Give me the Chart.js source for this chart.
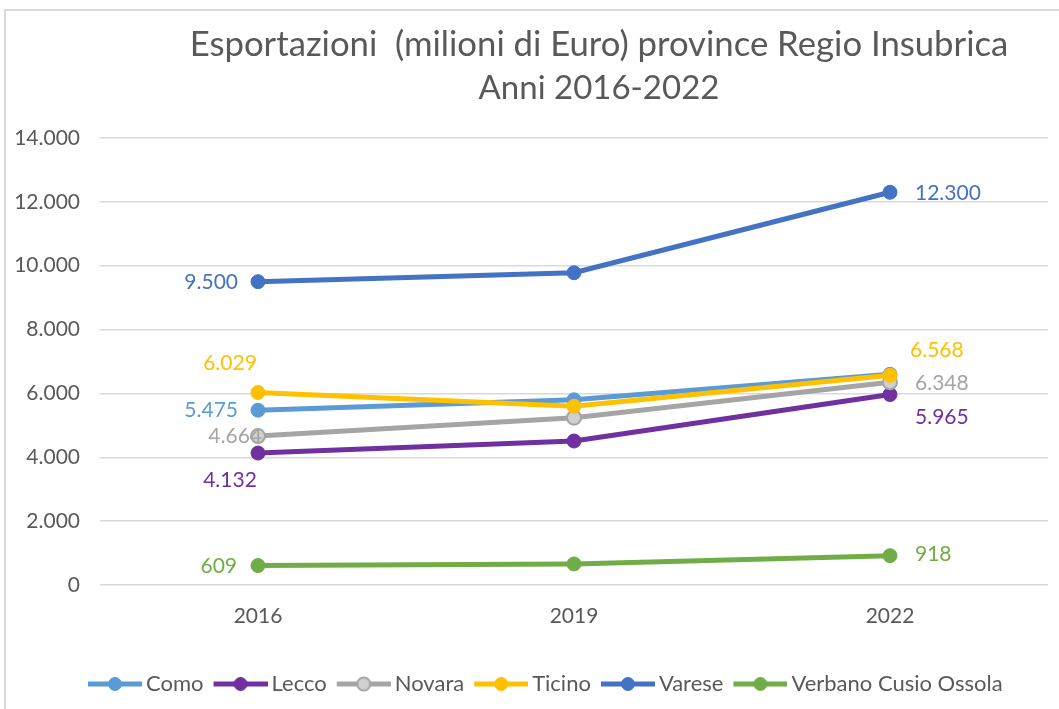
<!DOCTYPE html>
<html>
<head>
<meta charset="utf-8">
<script src="https://cdn.jsdelivr.net/npm/chart.js@4.4.0/dist/chart.umd.min.js"></script>
<style>
  html, body { margin: 0; padding: 0; background: #fff; overflow: hidden; }
  #wrap { position: relative; width: 1059px; height: 709px; }
  #frame { position: absolute; left: 4px; top: 9px; width: 1200px; height: 800px;
           border: 2px solid #d9d9d9; pointer-events: none; }
</style>
</head>
<body>
<div id="wrap">
  <canvas id="exportChart" width="1059" height="709"></canvas>
  <div id="frame"></div>
</div>
<script>
// data (milioni di Euro)
const years = ['2016', '2019', '2022'];
const como = [5475, 5800, 6600];
const lecco = [4132, 4510, 5965];
const novara = [4664, 5240, 6348];
const ticino = [6029, 5600, 6568];
const varese = [9500, 9780, 12300];
const verbano = [609, 660, 918];
const seriesNames = ['Como', 'Lecco', 'Novara', 'Ticino', 'Varese', 'Verbano Cusio Ossola'];
const yTicks = [0, 2000, 4000, 6000, 8000, 10000, 12000, 14000];
const titleLines = ['Esportazioni  (milioni di Euro) province Regio Insubrica', 'Anni 2016-2022'];

const colors = ['#5B9BD5', '#7030A0', '#A5A5A5', '#FFC000', '#4472C4', '#70AD47'];
const fills  = ['#5B9BD5', '#7030A0', '#D0D0D0', '#FFC000', '#4472C4', '#70AD47'];

// where each value label sits, relative to its point: [index, dx, dy, align]
const labelPlacement = [
  [[0, -20, 0, 'right']],
  [[0, -28, 27, 'center'], [2, 25, 23, 'left']],
  [[0, 4, 0, 'right'], [2, 25, 1, 'left']],
  [[0, -28, -29, 'center'], [2, 20, -25, 'left']],
  [[0, -20, 1, 'right'], [2, 25, 1, 'left']],
  [[0, -21, 1, 'right'], [2, 25, -1, 'left']]
];

const fmt = v => String(v).replace(/\B(?=(\d{3})+(?!\d))/g, '.');

// legend symbol: short line with a marker in the middle
function legendSymbol(i) {
  const c = document.createElement('canvas');
  c.width = 61; c.height = 16;
  const g = c.getContext('2d');
  g.strokeStyle = colors[i];
  g.lineWidth = 5;
  g.beginPath(); g.moveTo(7, 8); g.lineTo(61, 8); g.stroke();
  g.beginPath(); g.arc(34, 8, 6.5, 0, Math.PI * 2);
  g.fillStyle = fills[i]; g.fill();
  g.lineWidth = i === 2 ? 2 : 1; g.stroke();
  return c;
}

const titlePlugin = {
  id: 'twoLineTitle',
  afterDraw(chart) {
    const ctx = chart.ctx;
    ctx.save();
    ctx.fillStyle = '#595959';
    ctx.textAlign = 'center';
    ctx.textBaseline = 'middle';
    ctx.font = '34.7px Lato';
    ctx.fillText(titleLines[0], 599, 45);
    ctx.font = '33px Lato';
    ctx.fillText(titleLines[1], 599, 88);
    ctx.restore();
  }
};

const valueLabels = {
  id: 'valueLabels',
  afterDatasetsDraw(chart) {
    const ctx = chart.ctx;
    ctx.save();
    ctx.font = '21px Lato';
    ctx.textBaseline = 'middle';
    labelPlacement.forEach((list, di) => {
      const meta = chart.getDatasetMeta(di);
      const values = chart.data.datasets[di].data;
      list.forEach(([idx, dx, dy, align]) => {
        const pt = meta.data[idx];
        ctx.fillStyle = colors[di];
        ctx.textAlign = align;
        ctx.fillText(fmt(values[idx]), pt.x + dx, pt.y + dy);
      });
    });
    ctx.restore();
  }
};

// the legend row starts a bit to the right of the canvas edge
const legendShift = {
  id: 'legendShift',
  beforeDraw(chart) { chart.legend.left = 78; }
};

const allSeries = [como, lecco, novara, ticino, varese, verbano];

new Chart(document.getElementById('exportChart'), {
  type: 'line',
  data: {
    labels: years,
    datasets: allSeries.map((d, i) => ({
      label: seriesNames[i],
      data: d,
      borderColor: colors[i],
      backgroundColor: fills[i],
      borderWidth: 5,
      pointRadius: 7,
      pointHoverRadius: 7,
      pointBackgroundColor: fills[i],
      pointBorderColor: colors[i],
      pointBorderWidth: i === 2 ? 2 : 1,
      tension: 0,
      order: 6 - i
    }))
  },
  options: {
    responsive: false,
    animation: false,
    devicePixelRatio: 1,
    layout: { padding: { left: 0, right: 11, top: 138, bottom: 4 } },
    plugins: {
      title: { display: false },
      tooltip: { enabled: false },
      legend: {
        position: 'bottom',
        align: 'start',
        labels: {
          usePointStyle: true,
          pointStyleWidth: 47,
          boxHeight: 16,
          padding: 10,
          color: '#595959',
          font: { family: 'Lato', size: 22 },
          sort: (a, b) => a.datasetIndex - b.datasetIndex,
          generateLabels(chart) {
            return Chart.defaults.plugins.legend.labels.generateLabels(chart).map(item => {
              item.pointStyle = legendSymbol(item.datasetIndex);
              return item;
            });
          }
        }
      }
    },
    scales: {
      x: {
        offset: true,
        grid: { display: false },
        border: { display: false },
        ticks: { color: '#595959', font: { family: 'Lato', size: 21 }, padding: 11 },
        afterFit(scale) { scale.height = 78; }
      },
      y: {
        min: 0,
        max: 14000,
        afterBuildTicks(scale) { scale.ticks = yTicks.map(v => ({ value: v })); },
        grid: { color: '#d9d9d9', lineWidth: 1.5, drawTicks: false },
        border: { display: false },
        ticks: { color: '#595959', font: { family: 'Lato', size: 21 }, padding: 20, callback: v => fmt(v) },
        afterFit(scale) { scale.width = 100; }
      }
    }
  },
  plugins: [titlePlugin, valueLabels, legendShift]
});
</script>
</body>
</html>
